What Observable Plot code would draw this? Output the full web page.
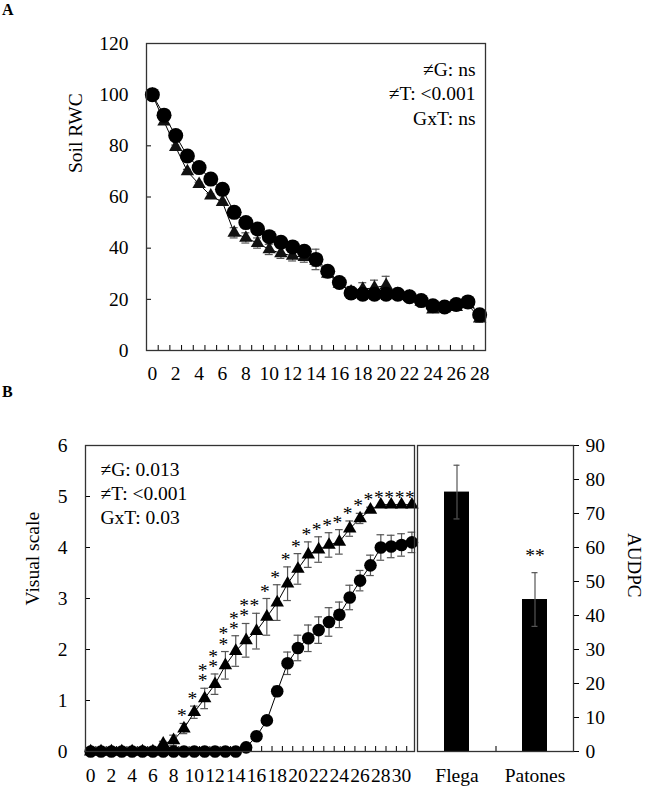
<!DOCTYPE html>
<html><head><meta charset="utf-8">
<script src="https://cdn.jsdelivr.net/npm/d3@7"></script>
<script src="https://cdn.jsdelivr.net/npm/@observablehq/plot@0.6"></script>
<style>
html,body{margin:0;padding:0;background:#fff;}
#wrap{position:relative;width:645px;height:786px;overflow:hidden;font-family:"Liberation Serif","Times New Roman",serif;}
#wrap svg{position:absolute;left:0;}
.lab{position:absolute;font-weight:bold;font-size:16px;line-height:1;}
</style></head><body>
<div id="wrap">
 <div class="lab" style="left:2px;top:2px">A</div>
 <div class="lab" style="left:2px;top:384px">B</div>
</div>
<script>
// ---------- Panel A: soil relative water content ----------
const soilDays      = [0,1,2,3,4,5,6,7,8,9,10,11,12,13,14,15,16,17,18,19,20,21,22,23,24,25,26,27,28];
const soilPatones   = [100,92,84,76,71.5,67,63,54,50,47.5,44.5,42.3,40.5,38.8,35.6,31,26.6,22.5,22,22,22,22,21,19.5,17.5,17,18,19,14];
const soilPatonesSE = [0,0.8,0.8,0.8,0.8,0.8,0.8,1,1,1,1,1,1.5,2,4,1.5,1,1,1,1,1,1,1,1,1,1,1,1,1.5];
const soilFlega     = [100,89.5,79.5,70,65,60.5,58,46,44,42,39.5,38,37,36.5,35,30,26,23,24,24.5,25.5,22,21,19,16,16.5,17,18,12.5];
const soilFlegaSE   = [0,0.8,0.8,0.8,0.8,0.8,0.8,2,2,2,2,2,2,2,2,1.5,1.5,2,2.5,3,3.5,1.5,1,1,1,1,1,1,1.5];
const soilYTicks = [0,20,40,60,80,100,120];
const soilXLabels = [0,2,4,6,8,10,12,14,16,18,20,22,24,26,28];
const soilStats = ["≠G: ns", "≠T: <0.001", "GxT: ns"];

// ---------- Panel B: visual disease scale ----------
const visDays      = [0,1,2,3,4,5,6,7,8,9,10,11,12,13,14,15,16,17,18,19,20,21,22,23,24,25,26,27,28,29,30,31];
const visFlega     = [0,0,0,0,0,0,0,0.15,0.22,0.45,0.77,1.04,1.32,1.69,1.97,2.18,2.36,2.64,2.92,3.29,3.58,3.86,3.96,4.05,4.11,4.37,4.57,4.74,4.84,4.84,4.84,4.84];
const visFlegaSE   = [0,0,0,0,0,0,0,0.05,0.1,0.1,0.12,0.2,0.2,0.27,0.3,0.33,0.35,0.36,0.35,0.33,0.3,0.25,0.25,0.24,0.24,0.15,0.1,0.05,0,0,0,0];
const visPatones   = [0,0,0,0,0,0,0,0,0,0,0,0,0,0,0,0.08,0.3,0.61,1.18,1.73,2.03,2.22,2.38,2.54,2.68,3.02,3.35,3.65,4.0,4.02,4.05,4.1];
const visPatonesSE = [0,0,0,0,0,0,0,0,0,0,0,0,0,0,0,0.03,0.05,0.08,0.1,0.22,0.25,0.26,0.26,0.28,0.25,0.24,0.2,0.2,0.25,0.22,0.22,0.2];
const visSig       = ["","","","","","","","","","*","*","**","**","**","**","**","*","*","*","*","*","*","*","*","*","*","*","*","*","*","*","*"];
const visYTicks = [0,1,2,3,4,5,6];
const visXLabels = [0,2,4,6,8,10,12,14,16,18,20,22,24,26,28,30];
const visStats = ["≠G: 0.013", "≠T: <0.001", "GxT: 0.03"];

// ---------- Panel B: AUDPC ----------
const audpcGenotypes = ["Flega", "Patones"];
const audpcValues    = [76.3, 44.7];
const audpcSE        = [7.9, 7.9];
const audpcSig       = ["", "**"];
const audpcYTicks = [0,10,20,30,40,50,60,70,80,90];

// ---------- styling ----------
const FONT = '"Liberation Serif", "Times New Roman", serif';
const errColor = "#555";
const frameColor = "#333";
const baseStyle = {fontFamily: FONT, fontSize: "19.5px", background: "transparent", color: "#000", overflow: "visible"};

const soil = soilDays.map((d, i) => ({day: d, pat: soilPatones[i], patE: soilPatonesSE[i], fle: soilFlega[i], fleE: soilFlegaSE[i]}));
const vis = visDays.map((d, i) => ({day: d, pat: visPatones[i], patE: visPatonesSE[i], fle: visFlega[i], fleE: visFlegaSE[i], sig: visSig[i]}));
const audpc = audpcGenotypes.map((g, i) => ({g, v: audpcValues[i], e: audpcSE[i], sig: audpcSig[i]}));

function errMarks(data, yKey, eKey, half) {
  const dd = data.filter(d => d[eKey] > 0);
  return [
    Plot.ruleX(dd, {x: "day", y1: d => d[yKey] - d[eKey], y2: d => d[yKey] + d[eKey], stroke: errColor, strokeWidth: 1.2}),
    Plot.ruleY(dd, {y: d => d[yKey] + d[eKey], x1: d => d.day - half, x2: d => d.day + half, stroke: errColor, strokeWidth: 1.2}),
    Plot.ruleY(dd, {y: d => d[yKey] - d[eKey], x1: d => d.day - half, x2: d => d.day + half, stroke: errColor, strokeWidth: 1.2})
  ];
}
const boundaries = n => d3.range(n).map(i => i + 0.5);

const wrap = document.getElementById("wrap");

// Panel A
const plotA = Plot.plot({
  width: 645, height: 400,
  marginTop: 43, marginBottom: 50, marginLeft: 146, marginRight: 160,
  style: baseStyle,
  x: {domain: [-0.5, 28.5]},
  y: {domain: [0, 120]},
  marks: [
    ...errMarks(soil, "fle", "fleE", 0.34),
    ...errMarks(soil, "pat", "patE", 0.34),
    Plot.line(soil, {x: "day", y: "fle", stroke: "#000", strokeWidth: 1}),
    Plot.line(soil, {x: "day", y: "pat", stroke: "#000", strokeWidth: 1}),
    Plot.dot(soil, {x: "day", y: "fle", symbol: "triangle", r: 5, fill: "#111", stroke: "none"}),
    Plot.dot(soil, {x: "day", y: "pat", r: 7.5, fill: "#000", stroke: "none"}),
    Plot.axisY({ticks: soilYTicks, tickSize: -5, fill: "none", label: null}),
    Plot.axisY({ticks: soilYTicks, tickSize: 0, tickPadding: 18, tickFormat: d3.format("d"), label: null}),
    Plot.axisX({ticks: boundaries(28), tickSize: -5, fill: "none", label: null}),
    Plot.axisX({ticks: soilXLabels, tickSize: 0, tickPadding: 16, tickFormat: d3.format("d"), label: null}),
    Plot.frame({stroke: frameColor, strokeWidth: 1.3}),
    Plot.text([soilStats.join("\n")], {frameAnchor: "top-right", textAnchor: "end", lineAnchor: "top", lineHeight: 1.25, dx: -10, dy: 15, fontSize: 19.5, fill: "#000"}),
    Plot.text(["Soil RWC"], {frameAnchor: "left", rotate: -90, dx: -71, dy: -24, fontSize: 19.5, fill: "#000"})
  ]
});
plotA.style.top = "0px";
wrap.appendChild(plotA);

// Panel B left: visual scale
const plotB1 = Plot.plot({
  width: 645, height: 386,
  marginTop: 45, marginBottom: 35, marginLeft: 85, marginRight: 231,
  style: baseStyle,
  x: {domain: [-0.5, 31.25]},
  y: {domain: [0, 6]},
  marks: [
    ...errMarks(vis, "fle", "fleE", 0.37),
    ...errMarks(vis, "pat", "patE", 0.37),
    Plot.line(vis, {x: "day", y: "fle", stroke: "#000", strokeWidth: 1}),
    Plot.line(vis, {x: "day", y: "pat", stroke: "#000", strokeWidth: 1}),
    Plot.dot(vis, {x: "day", y: "fle", symbol: "triangle", r: 5, fill: "#000", stroke: "none"}),
    Plot.dot(vis, {x: "day", y: "pat", r: 6.3, fill: "#000", stroke: "none"}),
    Plot.text(vis.filter(d => d.sig), {x: "day", y: d => d.fle + d.fleE, text: d => d.sig.split("").join("\n"), lineAnchor: "bottom", lineHeight: 0.52, dx: -2, dy: -1, fontSize: 19.5, fill: "#000"}),
    Plot.axisY({ticks: visYTicks, tickSize: -5, fill: "none", label: null}),
    Plot.axisY({ticks: visYTicks, tickSize: 0, tickPadding: 18, tickFormat: d3.format("d"), label: null}),
    Plot.axisX({ticks: boundaries(31), tickSize: -5, fill: "none", label: null}),
    Plot.axisX({ticks: visXLabels, tickSize: 0, tickPadding: 17, tickFormat: d3.format("d"), label: null}),
    Plot.frame({stroke: frameColor, strokeWidth: 1.3}),
    Plot.text([visStats.join("\n")], {frameAnchor: "top-left", textAnchor: "start", lineAnchor: "top", lineHeight: 1.22, dx: 15, dy: 14, fontSize: 19.5, fill: "#000"}),
    Plot.text(["Visual scale"], {frameAnchor: "left", rotate: -90, dx: -53, dy: 7, fontSize: 19.5, fill: "#000"})
  ]
});
plotB1.style.top = "400px";
wrap.appendChild(plotB1);

// Panel B right: AUDPC bars
const plotB2 = Plot.plot({
  width: 645, height: 386,
  marginTop: 45, marginBottom: 35, marginLeft: 417, marginRight: 72,
  style: baseStyle,
  x: {type: "band", domain: audpcGenotypes, paddingInner: 0.68, paddingOuter: 0.34},
  y: {domain: [0, 90]},
  marks: [
    Plot.barY(audpc, {x: "g", y: "v", fill: "#000"}),
    Plot.ruleX(audpc, {x: "g", y1: d => d.v - d.e, y2: d => d.v + d.e, stroke: errColor, strokeWidth: 1.2}),
    Plot.tickY(audpc, {x: "g", y: d => d.v + d.e, stroke: errColor, strokeWidth: 1.2, insetLeft: 9.5, insetRight: 9.5}),
    Plot.tickY(audpc, {x: "g", y: d => d.v - d.e, stroke: errColor, strokeWidth: 1.2, insetLeft: 9.5, insetRight: 9.5}),
    Plot.text(audpc.filter(d => d.sig), {x: "g", y: d => d.v + d.e, text: "sig", lineAnchor: "bottom", dy: -10.5, fontSize: 19.5, fill: "#000"}),
    Plot.ruleX(audpcGenotypes.slice(0, 1), {x: d => d, dx: 39, y1: 0, y2: 1.5, stroke: frameColor, strokeWidth: 1.3}),
    Plot.axisY({anchor: "right", ticks: audpcYTicks, tickSize: 5, tickPadding: 7, tickFormat: d3.format("d"), label: null}),
    Plot.axisX({tickSize: 0, tickPadding: 17, label: null}),
    Plot.frame({stroke: frameColor, strokeWidth: 1.3}),
    Plot.text(["AUDPC"], {frameAnchor: "right", rotate: 90, dx: 61, dy: -1, fontSize: 19, fill: "#000"})
  ]
});
plotB2.style.top = "400px";
wrap.appendChild(plotB2);
</script>
</body></html>
